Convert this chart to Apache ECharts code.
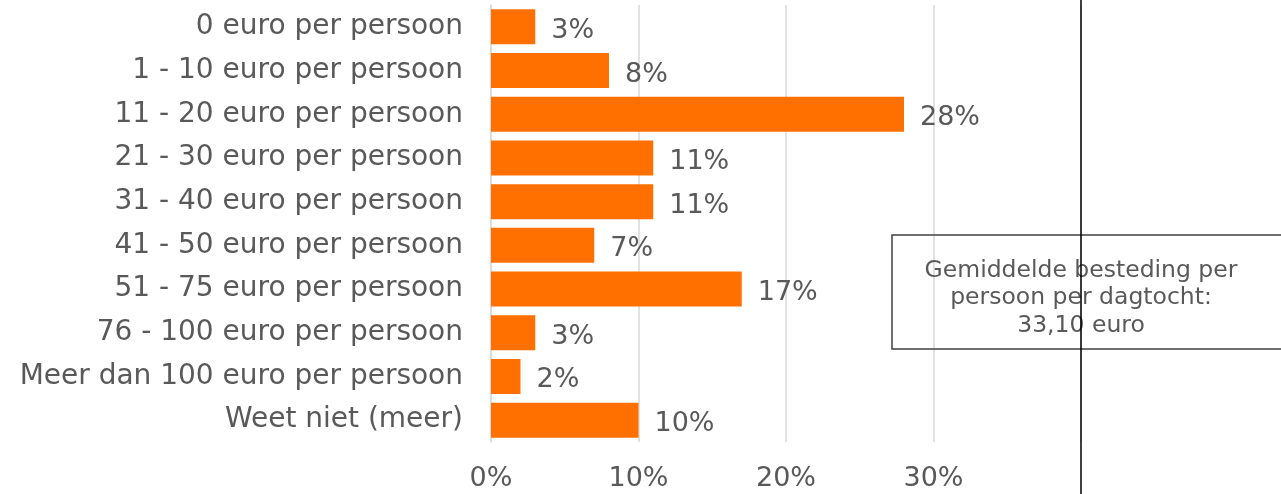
<!DOCTYPE html>
<html><head><meta charset="utf-8">
<script src="https://cdn.jsdelivr.net/npm/echarts@6/dist/echarts.min.js"></script>
<style>html,body{margin:0;padding:0;background:#fff}#c{width:1281px;height:494px}</style>
</head><body><div id="c"></div>
<script>
const categories = ['0 euro per persoon','1 - 10 euro per persoon','11 - 20 euro per persoon','21 - 30 euro per persoon','31 - 40 euro per persoon','41 - 50 euro per persoon','51 - 75 euro per persoon','76 - 100 euro per persoon','Meer dan 100 euro per persoon','Weet niet (meer)'];
const values = [3, 8, 28, 11, 11, 7, 17, 3, 2, 10];
const xTicks = [0, 10, 20, 30, 40];
const noteLines = ['Gemiddelde besteding per', 'persoon per dagtocht:', '33,10 euro'];

const FONT = 'DejaVu Sans';
const GREY = '#595959';
const chart = echarts.init(document.getElementById('c'), null, {renderer: 'canvas'});
chart.setOption({
  animation: false,
  textStyle: {fontFamily: FONT},
  grid: {left: 491, right: 200, top: 5, bottom: 52, containLabel: false},
  xAxis: {
    type: 'value', min: xTicks[0], max: xTicks[xTicks.length - 1], interval: 10,
    axisLine: {show: false}, axisTick: {show: false},
    splitLine: {show: true, lineStyle: {color: '#D9D9D9', width: 1.5}},
    axisLabel: {color: GREY, fontSize: 27, fontFamily: FONT, margin: 23,
      formatter: v => v === 40 ? '' : v + '%'}
  },
  yAxis: {
    type: 'category', data: categories, inverse: true,
    axisLine: {show: true, lineStyle: {color: '#D9D9D9', width: 1.5}},
    axisTick: {show: false},
    axisLabel: {color: GREY, fontSize: 28, fontFamily: FONT, margin: 28}
  },
  series: [{
    type: 'bar', data: values, barCategoryGap: '20%',
    itemStyle: {color: '#FF7000'},
    label: {show: true, position: 'right', distance: 16, color: GREY, fontSize: 27,
      fontFamily: FONT, formatter: p => p.value + '%', offset: [0, 4]}
  }]
});
const lx = chart.convertToPixel({xAxisIndex: 0}, 40);
chart.setOption({
  graphic: [
    {type: 'rect', shape: {x: 892, y: 235, width: 420, height: 114},
     style: {fill: 'none', stroke: '#404040', lineWidth: 1.5}, z: 10},
    {type: 'text', x: lx, y: 257, style: {text: noteLines.join('\n'), fill: GREY,
      font: '23.5px "DejaVu Sans"', textAlign: 'center', lineHeight: 27.5}, z: 11},
    {type: 'line', shape: {x1: lx, y1: 0, x2: lx, y2: 494},
     style: {stroke: '#000', lineWidth: 1.5}, z: 12}
  ]
});
</script></body></html>
